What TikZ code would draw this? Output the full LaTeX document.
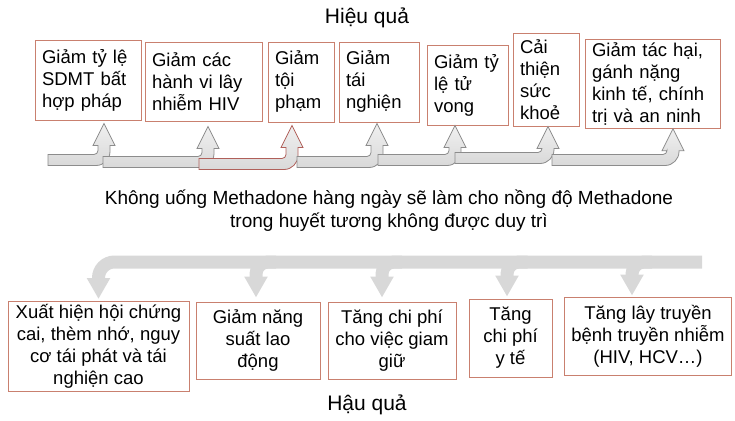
\documentclass[tikz,border=0pt]{standalone}
\usepackage{fontspec}
\setmainfont{Liberation Sans}
\usetikzlibrary{arrows.meta,calc}
\definecolor{border}{HTML}{C9806F}
\definecolor{arrowfill}{HTML}{D9D9D9}
\definecolor{arrowline}{HTML}{8C8C8C}
\definecolor{redline}{HTML}{B0605A}
\definecolor{bar}{HTML}{D8D8D8}
\tikzset{box/.style={draw=border,line width=0.9pt,fill=white,inner xsep=7pt,inner ysep=3pt,font=\fontsize{18.5}{22}\selectfont},topbox/.style={box,align=left},botbox/.style={box,align=center},bentarrow/.style={draw=arrowline,line width=0.8pt,top color=arrowfill!40,bottom color=arrowfill},downarrow/.style={draw=bar,line width=13pt,rounded corners=12pt,-{Triangle[width=22pt,length=21pt]}},lab/.style={align=center,font=\fontsize{19}{23}\selectfont},title/.style={font=\fontsize{21}{25}\selectfont}}
% bent-up arrow: #2 start of the bar, #3 tip
\newcommand{\bentup}[3][]{\path[bentarrow,#1] let \p1=(#2),\p2=(#3) in (\x1,\y1+5.5pt) -- (\x2-10pt,\y1+5.5pt) arc[start angle=-90,end angle=0,radius=4pt] -- (\x2-6pt,\y2-22pt) -- (\x2-11pt,\y2-22pt) -- (\x2,\y2) -- (\x2+11pt,\y2-22pt) -- (\x2+6pt,\y2-22pt) -- (\x2+6pt,\y1+8.5pt) arc[start angle=0,end angle=-90,radius=14pt] -- (\x1,\y1-5.5pt) -- cycle;}
\begin{document}
\begin{tikzpicture}[x=1pt,y=-1pt]
\useasboundingbox (0,0) rectangle (735,420);
\node[title] (hieuqua) at (367,18) {Hiệu quả};
\node[topbox,text width=92pt,minimum height=80pt] (t1) at (88,80) {Giảm tỷ lệ\\SDMT bất\\hợp pháp};
\node[topbox,text width=103pt,minimum height=79pt] (t2) at (203.5,81.5) {Giảm các\\hành vi lây\\nhiễm HIV};
\node[topbox,text width=52pt,minimum height=80pt] (t3) at (301,82) {Giảm\\tội\\phạm};
\node[topbox,text width=66pt,minimum height=80pt] (t4) at (379,82) {Giảm\\tái\\nghiện};
\node[topbox,text width=67pt,minimum height=80pt] (t5) at (467.5,85) {Giảm tỷ\\lệ tử\\vong};
\node[topbox,text width=52pt,minimum height=93pt] (t6) at (546,79.5) {Cải\\thiện\\sức\\khoẻ};
\node[topbox,text width=121pt,minimum height=88pt] (t7) at (652.5,84) {Giảm tác hại,\\gánh nặng\\kinh tế, chính\\trị và an ninh};
\coordinate (s1) at (48,160);
\coordinate (s2) at (103,162);
\coordinate (s3) at (199,164);
\coordinate (s4) at (297,162);
\coordinate (s5) at (378,160);
\coordinate (s6) at (455,158);
\coordinate (s7) at (552,160);
\bentup{s1}{[xshift=16pt,yshift=-3pt]t1.south}
\bentup{s2}{[xshift=4.5pt,yshift=-5pt]t2.south}
\bentup[draw=redline]{s3}{[xshift=-9pt,yshift=-3pt]t3.south}
\bentup{s4}{[xshift=-2pt,yshift=-1pt]t4.south}
\bentup{s5}{[xshift=-12.5pt]t5.south}
\bentup{s6}{[xshift=2pt]t6.south}
\bentup{s7}{[xshift=20.5pt]t7.south}
\node[lab] (msg) at (389,210.5) {Không uống Methadone hàng ngày sẽ làm cho nồng độ Methadone\\trong huyết tương không được duy trì};
\node[botbox,minimum width=181pt,minimum height=89pt] (b1) at (98.5,346.5) {Xuất hiện hội chứng\\cai, thèm nhớ, nguy\\cơ tái phát và tái\\nghiện cao};
\node[botbox,minimum width=124pt,minimum height=77pt] (b2) at (258,340.5) {Giảm năng\\suất lao\\động};
\node[botbox,minimum width=128pt,minimum height=77pt] (b3) at (392,340.5) {Tăng chi phí\\cho việc giam\\giữ};
\node[botbox,minimum width=83pt,minimum height=78pt] (b4) at (510.5,338) {Tăng\\chi phí\\y tế};
\node[botbox,minimum width=166pt,minimum height=78pt] (b5) at (648,336) {Tăng lây truyền\\bệnh truyền nhiễm\\(HIV, HCV…)};
\coordinate (barend) at (702,262);
\draw[downarrow,rounded corners=16pt] (barend) -| ([yshift=2pt]b1.north);
\draw[downarrow] (b2.north |- barend) ++(18,0) -| ([xshift=-2pt,yshift=4pt]b2.north);
\draw[downarrow] (b3.north |- barend) ++(10,0) -| ([xshift=-10pt,yshift=4pt]b3.north);
\draw[downarrow] (b4.north |- barend) ++(17,0) -| ([xshift=-3.5pt,yshift=2pt]b4.north);
\draw[downarrow] (b5.north |- barend) ++(4,0) -| ([xshift=-16pt,yshift=1pt]b5.north);
\node[title] (hauqua) at (367,405) {Hậu quả};
\end{tikzpicture}
\end{document}
